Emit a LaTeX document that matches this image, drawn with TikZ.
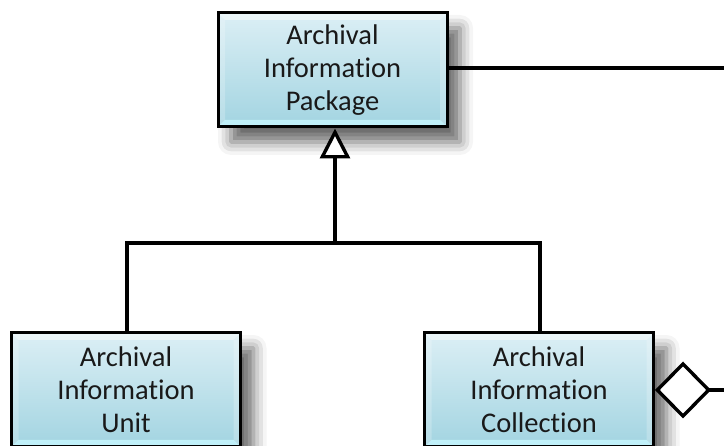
\documentclass[tikz,border=0pt]{standalone}
\usepackage{fontspec}
\setmainfont{Carlito}[Ligatures=NoCommon]
\usetikzlibrary{arrows.meta,shadows.blur}
\definecolor{boxtop}{HTML}{DCEFF5}
\definecolor{boxbot}{HTML}{A2D4E1}
\definecolor{bevelbot}{HTML}{C4F4FC}
\tikzset{
  cls/.style={draw=black, line width=3pt, minimum width=229pt, minimum height=114pt,
    inner sep=0pt, align=center, top color=boxtop, bottom color=boxbot,
    font=\fontsize{28.5}{33}\selectfont, text=black!90,
    blur shadow={shadow xshift=13pt, shadow yshift=-15pt, shadow blur radius=13pt, shadow opacity=60},
    path picture={
      \coordinate (pnw) at (path picture bounding box.north west);
      \coordinate (pse) at (path picture bounding box.south east);
      \coordinate (pne) at (path picture bounding box.north east);
      \coordinate (psw) at (path picture bounding box.south west);
      \fill[white, opacity=0.45] (pnw) -- (pne) -- ([shift={(-7pt,-7pt)}]pne) -- ([shift={(7pt,-7pt)}]pnw) -- cycle;
      \fill[bevelbot, opacity=0.9] (psw) -- (pse) -- ([shift={(-7pt,7pt)}]pse) -- ([shift={(7pt,7pt)}]psw) -- cycle;
      \fill[white, opacity=0.22] (pnw) -- (psw) -- ([shift={(7pt,7pt)}]psw) -- ([shift={(7pt,-7pt)}]pnw) -- cycle;
      \fill[white, opacity=0.22] (pne) -- (pse) -- ([shift={(-7pt,7pt)}]pse) -- ([shift={(-7pt,-7pt)}]pne) -- cycle;
    }},
  conn/.style={line width=3.4pt, draw=black}
}
\begin{document}
\begin{tikzpicture}[x=1pt,y=-1pt]
\useasboundingbox (0,0) rectangle (724,446);
\node[cls] (aip) at (332.5,70) {Archival\\Information\\Package};
\node[cls] (aiu) at (126,390) {Archival\\Information\\Unit};
\node[cls] (aic) at (539,390) {Archival\\Information\\Collection};
\coordinate (j)  at (335,243);
\coordinate (jl) at (127,243);
\coordinate (jr) at (540,243);
\coordinate (etop) at (735,68);
\coordinate (ebot) at (735,390);
\draw[conn, -{Triangle[open, fill=white, length=30pt, width=30pt]}] (j) -- (j |- aip.south);
\draw[conn] (aiu.north -| jl) -- (jl) -- (jr) -- (aic.north -| jr);
\draw[conn] (aip.east |- etop) -- (etop);
\draw[conn, {Diamond[open, fill=white, length=56pt, width=57pt]}-] (aic.east) -- (ebot);
\end{tikzpicture}
\end{document}
